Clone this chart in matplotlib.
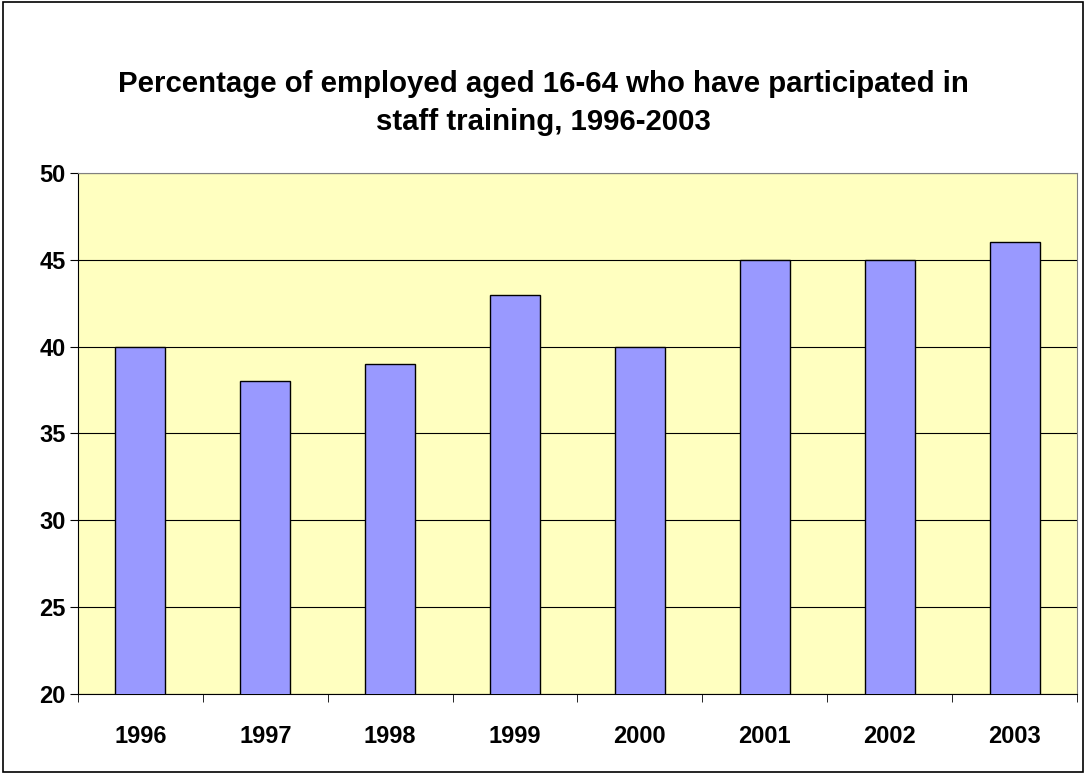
import matplotlib
matplotlib.use("Agg")
import matplotlib.pyplot as plt
from matplotlib.patches import Rectangle
import numpy as np

years = ["1996", "1997", "1998", "1999", "2000", "2001", "2002", "2003"]
values = [40, 38, 39, 43, 40, 45, 45, 46]
title = "Percentage of employed aged 16-64 who have participated in\nstaff training, 1996-2003"

plt.rcParams['font.family'] = ['Liberation Sans', 'DejaVu Sans']

fig = plt.figure(figsize=(10.86, 7.75), dpi=100)
fig.patch.set_facecolor("white")
fig.patches.append(Rectangle((0.003, 0.004), 0.994, 0.993, transform=fig.transFigure,
                             fill=False, edgecolor="black", linewidth=1.2))

ax = fig.add_axes([0.0718, 0.1045, 0.9199, 0.6723])
ax.set_facecolor("#FFFFC0")
x = np.arange(len(years))
ax.bar(x, values, width=0.4, color="#9999FF", edgecolor="black", linewidth=1, zorder=3)
ax.set_ylim(20, 50)
ax.set_xlim(-0.5, len(years) - 0.5)
ax.set_yticks(np.arange(20, 51, 5))
ax.yaxis.grid(True, color="black", linewidth=0.8, zorder=1)
ax.set_axisbelow(True)
ax.set_xticks(x)
ax.set_xticklabels(years, fontweight="bold", fontsize=17)
ax.tick_params(axis="x", length=0, pad=22)
ax.set_xticks(np.arange(-0.5, len(years), 1), minor=True)
ax.tick_params(axis="x", which="minor", length=6, direction="out")
for lbl in ax.get_yticklabels():
    lbl.set_fontweight("bold")
    lbl.set_fontsize(17)
ax.tick_params(axis="y", length=6, direction="out", pad=3)
for s in ax.spines.values():
    s.set_color("#808080")
ax.spines["left"].set_color("black")
ax.spines["bottom"].set_color("black")

fig.text(0.5, 0.867, title, ha="center", va="center", fontsize=21.2,
         fontweight="bold", linespacing=1.42)

fig.savefig("out.png", dpi=100)
